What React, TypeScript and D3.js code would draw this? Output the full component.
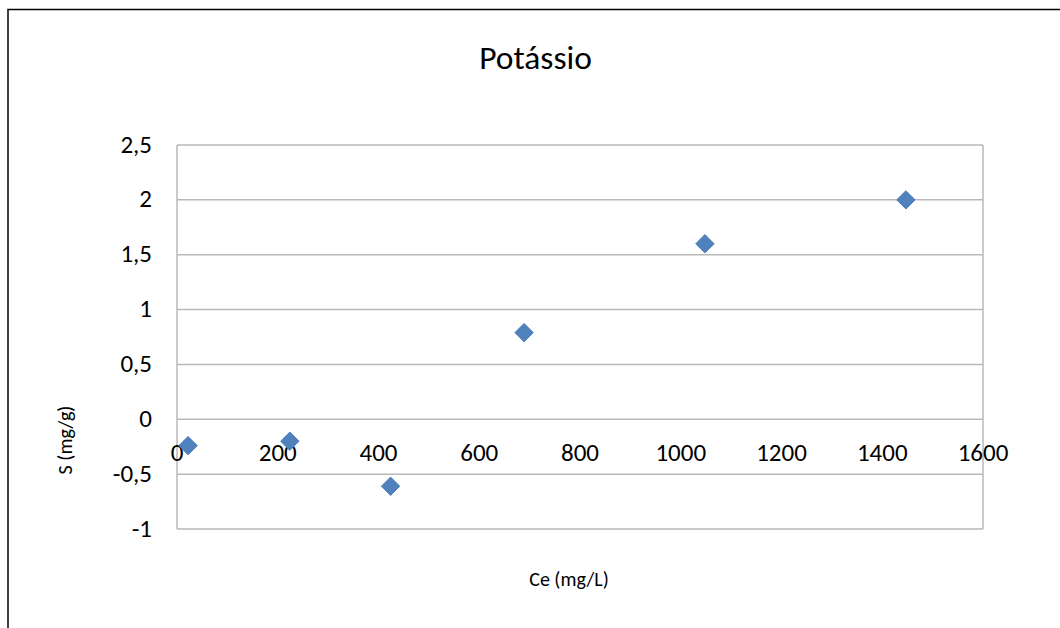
import React from "react";
import * as d3 from "d3";

// Ce (mg/L) and S (mg/g) measurements for potassium
const ceValues = [22, 224, 424, 689, 1048, 1447];
const sValues = [-0.24, -0.2, -0.61, 0.79, 1.6, 2.0];
const xTicks = [0, 200, 400, 600, 800, 1000, 1200, 1400, 1600];
const yTicks = [-1, -0.5, 0, 0.5, 1, 1.5, 2, 2.5];
const chartTitle = "Potássio";
const xTitle = "Ce (mg/L)";
const yTitle = "S (mg/g)";

const W = 1060;
const H = 628;
const plot = { left: 177, right: 983, top: 145, bottom: 529 };
const font = "Carlito, Lato, 'Open Sans', sans-serif";
const gridColor = "#b9b9b9";

const fmt = (v: number) => String(v).replace(".", ",");

export default function App() {
  const x = d3.scaleLinear().domain([0, 1600]).range([plot.left, plot.right]);
  const y = d3.scaleLinear().domain([-1, 2.5]).range([plot.bottom, plot.top]);
  const diamond = d3.symbol().type(d3.symbolDiamond2).size(215)();

  return (
    <svg
      width={W}
      height={H}
      style={{ position: "absolute", left: 0, top: 0, background: "#fff" }}
    >
      <rect x={8} y={9.5} width={W + 20} height={H + 20} fill="#fff" stroke="#000" strokeWidth={1.5} />
      <text x={535.5} y={69} textAnchor="middle" fontFamily={font} fontSize={33.5} fill="#000">
        {chartTitle}
      </text>

      {/* horizontal gridlines */}
      {yTicks.map((t) => (
        <line key={"g" + t} x1={plot.left} x2={plot.right} y1={y(t)} y2={y(t)} stroke={gridColor} strokeWidth={1.5} />
      ))}
      {/* plot area frame */}
      <line x1={plot.left} x2={plot.left} y1={plot.top} y2={plot.bottom} stroke={gridColor} strokeWidth={1.5} />
      <line x1={plot.right} x2={plot.right} y1={plot.top} y2={plot.bottom} stroke={gridColor} strokeWidth={1.5} />

      {/* y tick labels */}
      {yTicks.map((t) => (
        <text key={"y" + t} x={152} y={y(t) + 7.5} textAnchor="end" fontFamily={font} fontSize={25} fill="#000">
          {fmt(t)}
        </text>
      ))}
      {/* x tick labels, below the axis at S = 0 */}
      {xTicks.map((t) => (
        <text key={"x" + t} x={x(t)} y={y(0) + 42} textAnchor="middle" fontFamily={font} fontSize={25} fill="#000">
          {fmt(t)}
        </text>
      ))}

      {/* data points */}
      {ceValues.map((c, i) => (
        <path
          key={"p" + i}
          d={diamond || ""}
          transform={`translate(${x(c)},${y(sValues[i])})`}
          fill="#4f81bd"
          stroke="#4a7ebb"
          strokeWidth={1}
        />
      ))}

      <text x={569} y={586} textAnchor="middle" fontFamily={font} fontSize={20} fill="#000">
        {xTitle}
      </text>
      <text
        transform={`translate(72,440) rotate(-90)`}
        textAnchor="middle"
        fontFamily={font}
        fontSize={20}
        fill="#000"
      >
        {yTitle}
      </text>
    </svg>
  );
}
